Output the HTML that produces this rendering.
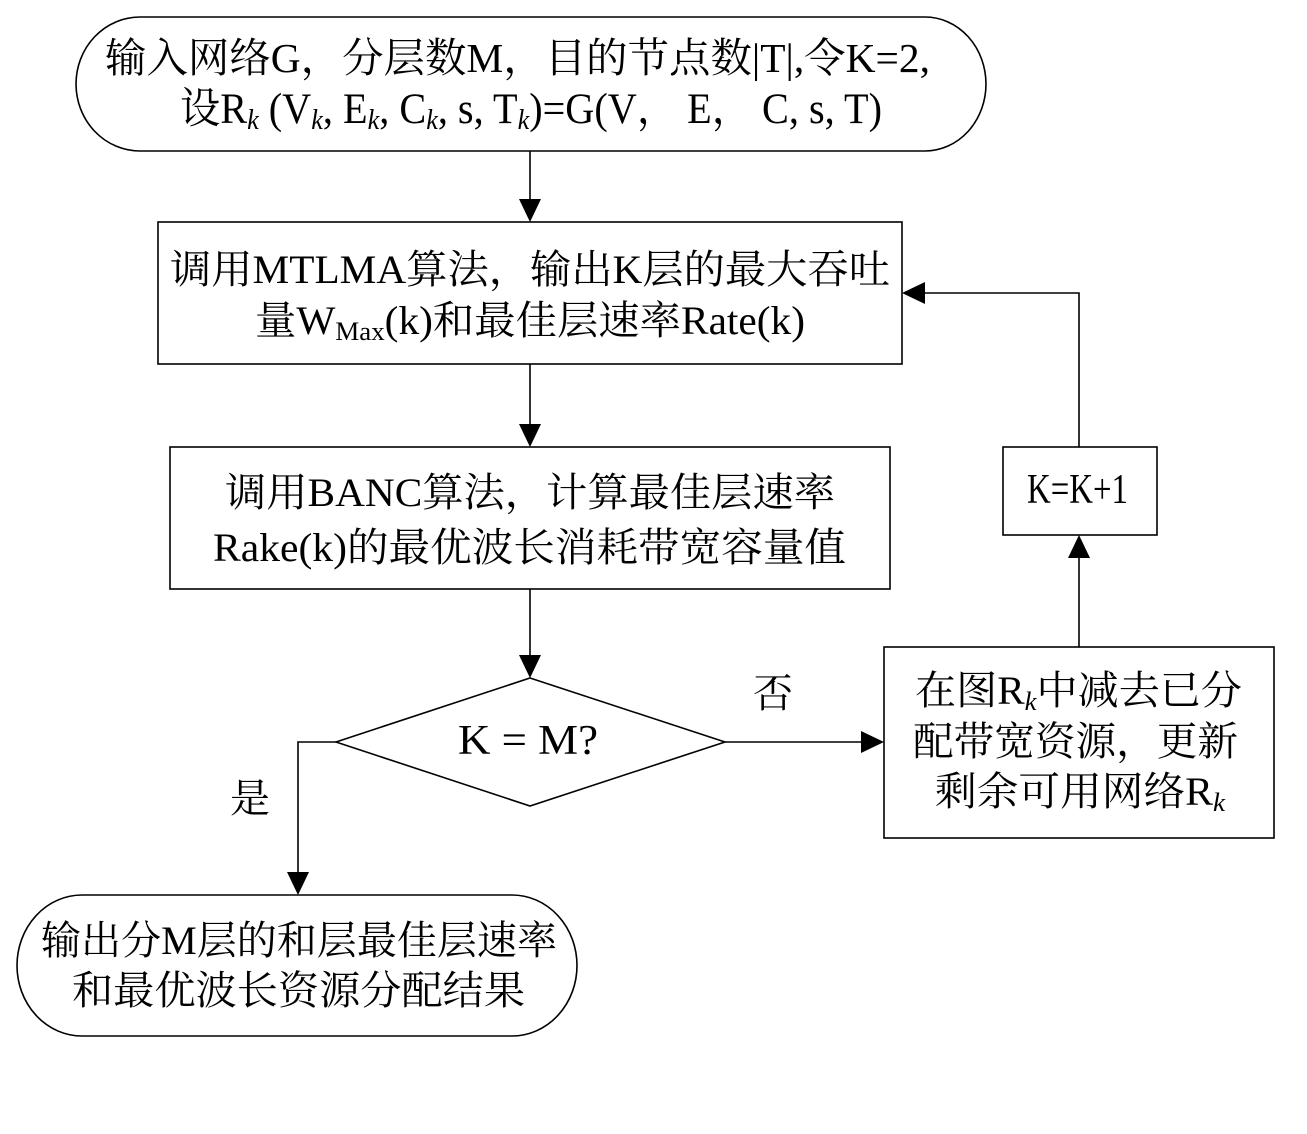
<!DOCTYPE html>
<html>
<head>
<meta charset="utf-8">
<style>
  html,body{margin:0;padding:0;background:#fff;}
  svg{display:block;}
  text{font-family:"Liberation Serif","Noto Serif CJK SC","Noto Sans CJK SC",serif;fill:#000;}
</style>
</head>
<body>
<svg width="1307" height="1134" viewBox="0 0 1307 1134" xmlns="http://www.w3.org/2000/svg">
  <rect x="0" y="0" width="1307" height="1134" fill="#fff"/>

  <!-- shapes -->
  <g fill="none" stroke="#000" stroke-width="1.6">
    <!-- top terminator -->
    <path d="M140,17 H925 A61,67 0 0 1 925,151 H140 A64,67 0 0 1 140,17 Z"/>
    <!-- process boxes -->
    <rect x="158" y="222" width="744" height="142"/>
    <rect x="170" y="447" width="720" height="142"/>
    <rect x="884" y="647" width="390" height="191"/>
    <rect x="1003" y="447" width="154" height="88"/>
    <!-- decision -->
    <polygon points="530,678 725,742 530,806 336,742"/>
    <!-- bottom terminator -->
    <path d="M82,895 H512 A65,70.5 0 0 1 512,1036 H82 A65,70.5 0 0 1 82,895 Z"/>

    <!-- connectors -->
    <line x1="530" y1="151" x2="530" y2="200"/>
    <line x1="530" y1="364" x2="530" y2="425"/>
    <line x1="530" y1="589" x2="530" y2="656"/>
    <line x1="725" y1="742" x2="862" y2="742"/>
    <line x1="1079" y1="647" x2="1079" y2="557"/>
    <polyline points="1079,447 1079,293 924,293"/>
    <polyline points="336,742 298,742 298,873"/>
  </g>

  <!-- arrowheads -->
  <g fill="#000" stroke="none">
    <polygon points="519,199 541,199 530,222"/>
    <polygon points="519,424 541,424 530,447"/>
    <polygon points="519,655 541,655 530,678"/>
    <polygon points="861,731 861,753 884,742"/>
    <polygon points="1068,558 1090,558 1079,535"/>
    <polygon points="925,282 925,304 902,293"/>
    <polygon points="287,872 309,872 298,895"/>
  </g>

  <!-- top terminator text -->
  <text x="105" y="72" font-size="41" textLength="825" lengthAdjust="spacingAndGlyphs">输入网络G，分层数M，目的节点数|T|,令K=2,</text>
  <text x="180" y="123" font-size="43" textLength="702" lengthAdjust="spacingAndGlyphs">设R<tspan font-size="28" font-style="italic" dy="6">k</tspan><tspan dy="-6"> (V</tspan><tspan font-size="28" font-style="italic" dy="6">k</tspan><tspan dy="-6">, E</tspan><tspan font-size="28" font-style="italic" dy="6">k</tspan><tspan dy="-6">, C</tspan><tspan font-size="28" font-style="italic" dy="6">k</tspan><tspan dy="-6">, s, T</tspan><tspan font-size="28" font-style="italic" dy="6">k</tspan><tspan dy="-6">)=G(V， E， C, s, T)</tspan></text>

  <!-- box 2 text -->
  <text x="170" y="283" font-size="40" textLength="720" lengthAdjust="spacingAndGlyphs">调用MTLMA算法，输出K层的最大吞吐</text>
  <text x="255" y="334" font-size="40" textLength="550" lengthAdjust="spacingAndGlyphs">量W<tspan font-size="26" dy="6">Max</tspan><tspan dy="-6">(k)和最佳层速率Rate(k)</tspan></text>

  <!-- box 3 text -->
  <text x="225" y="506" font-size="40" textLength="610" lengthAdjust="spacingAndGlyphs">调用BANC算法，计算最佳层速率</text>
  <text x="213" y="561" font-size="40" textLength="633" lengthAdjust="spacingAndGlyphs">Rake(k)的最优波长消耗带宽容量值</text>

  <!-- decision text -->
  <text x="458" y="754" font-size="42" textLength="140" lengthAdjust="spacingAndGlyphs">K = M?</text>

  <!-- K=K+1 -->
  <text x="1027" y="503" font-size="42" textLength="101" lengthAdjust="spacingAndGlyphs">K=K+1</text>

  <!-- labels -->
  <text x="773" y="707" font-size="40" text-anchor="middle">否</text>
  <text x="250" y="812" font-size="40" text-anchor="middle">是</text>

  <!-- right box text -->
  <text x="915" y="704" font-size="40" textLength="327" lengthAdjust="spacingAndGlyphs">在图R<tspan font-size="26" font-style="italic" dy="6">k</tspan><tspan dy="-6">中减去已分</tspan></text>
  <text x="913" y="755" font-size="40" textLength="325" lengthAdjust="spacingAndGlyphs">配带宽资源，更新</text>
  <text x="935" y="805" font-size="40" textLength="290" lengthAdjust="spacingAndGlyphs">剩余可用网络R<tspan font-size="26" font-style="italic" dy="6">k</tspan></text>

  <!-- bottom terminator text -->
  <text x="41" y="954" font-size="40" textLength="516" lengthAdjust="spacingAndGlyphs">输出分M层的和层最佳层速率</text>
  <text x="72" y="1004" font-size="40" textLength="453" lengthAdjust="spacingAndGlyphs">和最优波长资源分配结果</text>
</svg>
</body>
</html>
